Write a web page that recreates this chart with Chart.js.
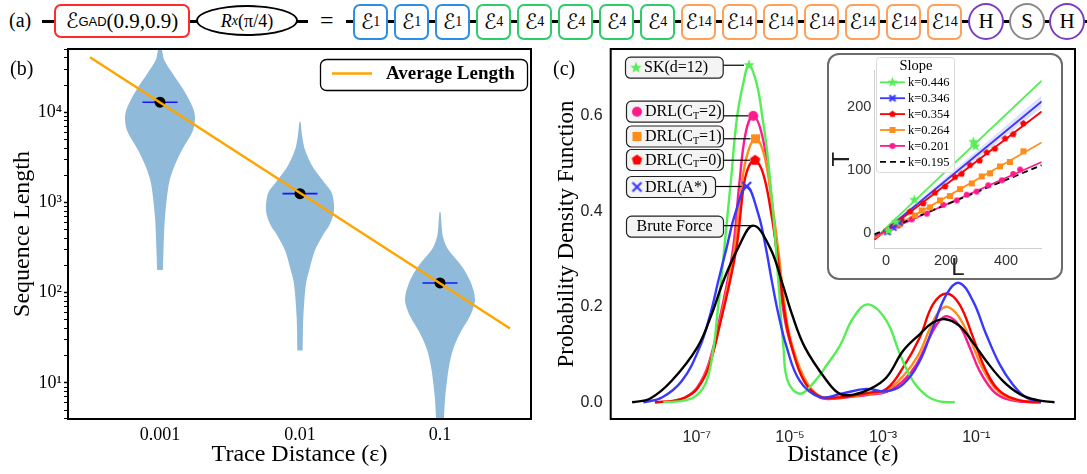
<!DOCTYPE html>
<html>
<head>
<meta charset="utf-8">
<title>Sequence length and distance distributions</title>
<script src="https://cdn.jsdelivr.net/npm/chart.js@4.4.1/dist/chart.umd.min.js"></script>
<style>
  body { margin: 0; background: #fff; }
  #page { position: relative; width: 1087px; height: 474px; overflow: hidden; background: #fff;
          font-family: "Liberation Serif", "Times New Roman", serif; color: #000; }
  .tag { position: absolute; font-size: 20px; line-height: 1; }
  .wire { position: absolute; top: 20px; height: 3px; background: #000; }
  .gate { position: absolute; top: 4px; width: 35px; height: 36px; box-sizing: border-box;
          border: 2.5px solid #000; border-radius: 7px; background: #fff;
          display: flex; align-items: center; justify-content: center; font-size: 21px; line-height: 1; }
  .gate sub { font-size: 14px; vertical-align: -6px; font-family: "Liberation Serif", serif; }
  .scr { font-family: "DejaVu Sans", sans-serif; font-size: 21px; }
  .round { border-radius: 50%; top: 3px; width: 36px; height: 37px; font-size: 21px; }
  canvas { position: absolute; }
  #insetFrame { position: absolute; left: 827px; top: 53px; width: 236px; height: 227px; box-sizing: border-box;
                border: 2px solid #6b6b6b; border-radius: 12px; background: #fff; }
</style>
</head>
<body>
<div id="page">
  <canvas id="chartB" width="545" height="434" style="left:0;top:40px;"></canvas>
  <canvas id="chartC" width="542" height="434" style="left:545px;top:40px;"></canvas>
  <div id="insetFrame"></div>
  <canvas id="chartIn" width="236" height="227" style="left:827px;top:53px;"></canvas>

  <!-- (a) circuit row -->
  <div class="tag" style="left:9px;top:10px;">(a)</div>
  <div class="wire" style="left:42px;width:266px;"></div>
  <div class="wire" style="left:346px;width:741px;"></div>
  <div class="gate" style="left:54px;width:136px;height:34px;border-color:#ff2a2a;">
    <span class="scr">ℰ</span><sub style="font-family:'Liberation Sans',sans-serif;font-size:13px;vertical-align:-5px;">GAD</sub>(0.9,0.9)
  </div>
  <div class="gate" style="left:196px;top:5px;width:102px;height:31px;border:2px solid #000;border-radius:50%;font-size:18px;">
    <i>R</i><sub><i>x</i></sub>(π/4)
  </div>
  <div class="tag" style="left:320px;top:8px;font-size:24px;">=</div>
  <div id="gates"></div>

  <div class="tag" style="left:10px;top:58px;">(b)</div>
  <div class="tag" style="left:553px;top:58px;">(c)</div>
</div>

<script>
// ================= data (b): sequence length vs trace distance =================
var traceLabels = ['0.001', '0.01', '0.1'];
// violin outlines: log10(length) levels and half widths (in category units)
var violin1Lvl  = [2.25, 2.47, 2.84, 3.21, 3.39, 3.58, 3.80, 3.95, 4.06, 4.24, 4.43, 4.58, 4.70];
var violin1Half = [0.021, 0.025, 0.036, 0.064, 0.100, 0.157, 0.236, 0.250, 0.232, 0.171, 0.089, 0.029, 0.011];
var violin2Lvl  = [1.36, 1.73, 2.10, 2.28, 2.47, 2.62, 2.76, 2.91, 3.10, 3.21, 3.39, 3.58, 3.75, 3.89];
var violin2Half = [0.019, 0.024, 0.043, 0.071, 0.107, 0.157, 0.214, 0.243, 0.229, 0.179, 0.093, 0.036, 0.014, 0.004];
var violin3Lvl  = [0.50, 0.63, 0.82, 1.00, 1.18, 1.37, 1.55, 1.74, 1.92, 2.11, 2.29, 2.48, 2.62, 2.75, 2.89];
var violin3Half = [0.025, 0.029, 0.036, 0.048, 0.064, 0.093, 0.143, 0.214, 0.250, 0.221, 0.157, 0.057, 0.021, 0.011, 0.004];
var medianLen = [12900, 1250, 128];
var avgLineX = [-0.5, 2.5];
var avgLineY = [40600, 40];

// ================= data (c): PDF of distance (x = log10 distance) =================
var skExp  = [-7.72, -7.25, -7.0, -6.79, -6.64, -6.56, -6.48, -6.34, -6.27, -6.14, -6.01, -5.88, -5.71, -5.59, -5.49, -5.36, -5.25, -5.14, -5.05, -4.79, -4.5, -4.21, -3.93, -3.64, -3.32, -2.93, -2.64, -2.36, -2.07, -1.79, -1.46];
var skPdf  = [0.0, 0.004, 0.015, 0.045, 0.115, 0.185, 0.254, 0.394, 0.463, 0.595, 0.665, 0.706, 0.665, 0.595, 0.525, 0.394, 0.254, 0.115, 0.045, 0.018, 0.04, 0.078, 0.118, 0.177, 0.205, 0.171, 0.101, 0.045, 0.014, 0.002, 0.0];
var ct2Exp = [-7.9, -7.5, -7.25, -7.0, -6.75, -6.5, -6.23, -6.09, -5.95, -5.79, -5.6, -5.43, -5.29, -5.12, -4.96, -4.68, -4.36, -4.0, -3.64, -3.29, -2.93, -2.57, -2.28, -2.0, -1.79, -1.61, -1.36, -1.14, -0.93, -0.64, -0.36, 0.0, 0.36];
var ct2Pdf = [0.0, 0.003, 0.01, 0.03, 0.08, 0.18, 0.317, 0.456, 0.565, 0.600, 0.56, 0.456, 0.317, 0.178, 0.115, 0.045, 0.010, 0.008, 0.012, 0.016, 0.022, 0.045, 0.08, 0.136, 0.171, 0.180, 0.160, 0.115, 0.066, 0.024, 0.007, 0.001, 0.0];
var ct1Exp = [-7.9, -7.5, -7.25, -7.0, -6.75, -6.5, -6.2, -6.04, -5.9, -5.74, -5.56, -5.39, -5.25, -5.08, -4.94, -4.66, -4.36, -4.0, -3.64, -3.29, -2.93, -2.57, -2.25, -1.98, -1.8, -1.62, -1.38, -1.12, -0.9, -0.6, -0.3, 0.05, 0.39];
var ct1Pdf = [0.0, 0.003, 0.01, 0.028, 0.075, 0.17, 0.317, 0.456, 0.525, 0.552, 0.52, 0.42, 0.317, 0.178, 0.115, 0.045, 0.013, 0.009, 0.013, 0.018, 0.025, 0.055, 0.098, 0.158, 0.19, 0.200, 0.18, 0.13, 0.078, 0.03, 0.009, 0.002, 0.0];
var ct0Exp = [-7.9, -7.5, -7.25, -7.0, -6.75, -6.5, -6.16, -5.99, -5.88, -5.75, -5.58, -5.41, -5.26, -5.1, -4.96, -4.7, -4.36, -4.0, -3.64, -3.29, -2.93, -2.57, -2.21, -1.93, -1.64, -1.36, -1.07, -0.79, -0.5, -0.07, 0.39];
var ct0Pdf = [0.0, 0.003, 0.01, 0.028, 0.072, 0.165, 0.317, 0.456, 0.495, 0.507, 0.48, 0.40, 0.30, 0.178, 0.115, 0.045, 0.012, 0.01, 0.014, 0.02, 0.028, 0.073, 0.136, 0.205, 0.228, 0.205, 0.136, 0.066, 0.024, 0.004, 0.0];
var aExp   = [-8.15, -7.75, -7.32, -6.94, -6.71, -6.54, -6.36, -6.18, -5.93, -5.68, -5.52, -5.39, -5.25, -5.07, -4.79, -4.36, -3.9, -3.36, -2.93, -2.57, -2.21, -1.93, -1.64, -1.37, -1.07, -0.79, -0.5, -0.22, 0.07, 0.39];
var aPdf   = [0.0, 0.01, 0.045, 0.115, 0.185, 0.254, 0.324, 0.394, 0.452, 0.394, 0.324, 0.254, 0.185, 0.115, 0.045, 0.011, 0.018, 0.028, 0.023, 0.038, 0.087, 0.157, 0.226, 0.250, 0.212, 0.143, 0.080, 0.038, 0.010, 0.001];
var bfExp  = [-8.39, -8.0, -7.54, -6.99, -6.68, -6.43, -6.11, -5.79, -5.43, -5.18, -4.96, -4.68, -4.21, -3.93, -3.64, -3.3, -2.93, -2.57, -2.21, -1.93, -1.66, -1.36, -1.07, -0.79, -0.43, -0.07, 0.29, 0.68];
var bfPdf  = [0.0, 0.008, 0.045, 0.115, 0.185, 0.254, 0.324, 0.370, 0.324, 0.254, 0.185, 0.115, 0.045, 0.0175, 0.016, 0.027, 0.052, 0.108, 0.143, 0.167, 0.174, 0.160, 0.125, 0.087, 0.045, 0.0175, 0.005, 0.0];
// peaks: SK, CT=2, CT=1, CT=0, A*, brute force
var peakExp = [-5.88, -5.79, -5.74, -5.75, -5.93, -5.79];
var peakPdf = [0.706, 0.600, 0.552, 0.507, 0.452, 0.370];
var pdfTicks = [0, 0.2, 0.4, 0.6];
var distTickExp = [-7, -5, -3, -1];

// ================= data inset: T vs L =================
var fitL      = [-39, 519];
var fitSK     = [-9, 242];
var fitAStar  = [-10, 209];
var fitCT0    = [-10, 193];
var fitCT1    = [-8, 144];
var fitCT2    = [-5, 113];
var fitBrute  = [-2, 108];
var bandLow   = [-12, 199];
var bandHigh  = [-8, 219];
var skPtL  = [8, 33, 94, 291, 298];
var skPtT  = [4, 18, 53, 145, 138];
var aPtL   = [5, 25, 45];
var aPtT   = [2, 9, 17];
var ct0PtL = [20, 52, 80, 124, 163, 197, 230, 252, 280, 312, 336, 363, 397, 424, 458];
var ct0PtT = [9, 21, 34, 47, 64, 74, 89, 94, 108, 115, 128, 134, 150, 157, 174];
var ct1PtL = [8, 47, 97, 119, 147, 180, 213, 247, 286, 319, 347, 380, 413, 458];
var ct1PtT = [4, 15, 28, 36, 41, 52, 59, 70, 79, 90, 95, 106, 113, 130];
var ct2PtL = [2, 41, 86, 136, 191, 236, 269, 302, 341, 386, 424, 447];
var ct2PtT = [3, 12, 22, 31, 45, 52, 61, 66, 76, 84, 94, 101];
var slopeLabels = ['k=0.446', 'k=0.346', 'k=0.354', 'k=0.264', 'k=0.201', 'k=0.195'];
var insetXTicks = [0, 200, 400];
var insetYTicks = [0, 100, 200];

// colours
var cGreen = '#55ee55', cPink = '#ff1a8c', cOrange = '#ff8c1a', cRed = '#ff0000', cBlue = '#3838ff', cBlack = '#000000';
var violinColor = '#8fbada', avgColor = '#ffa500';
var serif = '"Liberation Serif", "Times New Roman", serif';
var sans = '"Liberation Sans", Arial, sans-serif';

// ---- circuit gates of row (a)
var gateX = [353, 394, 435, 476, 517, 558, 599, 640, 681, 722, 763, 804, 845, 886, 927];
var gateSub = ['1', '1', '1', '4', '4', '4', '4', '4', '14', '14', '14', '14', '14', '14', '14'];
var gateColor = { '1': '#2d8fe3', '4': '#2fcc6a', '14': '#ffa05a' };
var singleGates = [{ x: 968, t: 'H', c: '#7d3cc0' }, { x: 1009, t: 'S', c: '#8a8a8a' }, { x: 1049, t: 'H', c: '#7d3cc0' }];
var gatesHtml = '';
gateX.forEach(function (x, i) {
    gatesHtml += '<div class="gate" style="left:' + x + 'px;border-color:' + gateColor[gateSub[i]] + ';">' +
        '<span class="scr">ℰ</span><sub>' + gateSub[i] + '</sub></div>';
});
singleGates.forEach(function (g) {
    gatesHtml += '<div class="gate round" style="left:' + g.x + 'px;border-color:' + g.c + ';">' + g.t + '</div>';
});
document.getElementById('gates').innerHTML = gatesHtml;

// ---- helpers
function sup(n) {
    var map = { '-': '⁻', '0': '⁰', '1': '¹', '2': '²', '3': '³', '4': '⁴', '5': '⁵', '6': '⁶', '7': '⁷', '8': '⁸', '9': '⁹' };
    return String(n).split('').map(function (c) { return map[c]; }).join('');
}
function expPoints(exps, vals) {
    return exps.map(function (e, i) { return { x: Math.pow(10, e), y: vals[i] }; });
}
function pairPoints(xs, ys) {
    return xs.map(function (x, i) { return { x: x, y: ys[i] }; });
}
function violinPoints(pos, lvl, half) {
    var pts = [];
    for (var i = 0; i < lvl.length; i++) pts.push({ x: pos - half[i], y: Math.pow(10, lvl[i]) });
    for (var j = lvl.length - 1; j >= 0; j--) pts.push({ x: pos + half[j], y: Math.pow(10, lvl[j]) });
    return pts;
}
function rrect(ctx, x, y, w, h, r) {
    ctx.beginPath();
    ctx.moveTo(x + r, y);
    ctx.arcTo(x + w, y, x + w, y + h, r);
    ctx.arcTo(x + w, y + h, x, y + h, r);
    ctx.arcTo(x, y + h, x, y, r);
    ctx.arcTo(x, y, x + w, y, r);
    ctx.closePath();
}
// marker images (matplotlib style shapes)
function makeMarker(shape, color, size) {
    var s = Math.ceil(size * 2 + 4);
    var c = document.createElement('canvas');
    c.width = s; c.height = s;
    var g = c.getContext('2d');
    var cx = s / 2, cy = s / 2, i, a;
    g.fillStyle = color; g.strokeStyle = color;
    g.beginPath();
    if (shape === 'circle') {
        g.arc(cx, cy, size, 0, Math.PI * 2);
    } else if (shape === 'square') {
        g.rect(cx - size, cy - size, size * 2, size * 2);
    } else if (shape === 'pentagon') {
        for (i = 0; i < 5; i++) {
            a = -Math.PI / 2 + i * 2 * Math.PI / 5;
            g.lineTo(cx + size * Math.cos(a), cy + size * Math.sin(a));
        }
    } else if (shape === 'star') {
        for (i = 0; i < 10; i++) {
            a = -Math.PI / 2 + i * Math.PI / 5;
            var r = i % 2 === 0 ? size : size * 0.42;
            g.lineTo(cx + r * Math.cos(a), cy + r * Math.sin(a));
        }
    } else if (shape === 'x') {
        g.lineWidth = 2.2;
        g.moveTo(cx - size, cy - size); g.lineTo(cx + size, cy + size);
        g.moveTo(cx + size, cy - size); g.lineTo(cx - size, cy + size);
        g.stroke();
        return c;
    }
    g.closePath();
    g.fill();
    return c;
}

var mStar = makeMarker('star', cGreen, 6), mCircle = makeMarker('circle', cPink, 5),
    mSquare = makeMarker('square', cOrange, 4.5), mPent = makeMarker('pentagon', cRed, 5.5),
    mX = makeMarker('x', cBlue, 4.5);
var sStar = makeMarker('star', cGreen, 5.5), sCircle = makeMarker('circle', cPink, 3),
    sSquare = makeMarker('square', cOrange, 3), sPent = makeMarker('pentagon', cRed, 3.5),
    sX = makeMarker('x', cBlue, 3);

// frame round the plot area
var framePlugin = {
    id: 'frame',
    afterDraw: function (chart) {
        var a = chart.chartArea, ctx = chart.ctx;
        ctx.save();
        ctx.lineWidth = 2;
        ctx.strokeStyle = '#000';
        ctx.strokeRect(a.left, a.top, a.right - a.left, a.bottom - a.top);
        ctx.restore();
    }
};

// legend of (b)
var avgLegend = {
    id: 'avgLegend',
    afterDraw: function (chart) {
        var ctx = chart.ctx;
        ctx.save();
        rrect(ctx, 320.5, 19.5, 207, 31, 6);
        ctx.fillStyle = '#fff'; ctx.fill();
        ctx.lineWidth = 1.3; ctx.strokeStyle = '#000'; ctx.stroke();
        ctx.beginPath(); ctx.moveTo(332, 33.5); ctx.lineTo(372, 33.5);
        ctx.strokeStyle = avgColor; ctx.lineWidth = 2.5; ctx.stroke();
        ctx.fillStyle = '#000'; ctx.font = 'bold 19px ' + serif; ctx.textBaseline = 'middle';
        ctx.fillText('Average Length', 386, 34);
        ctx.restore();
    }
};

// ================= chart (b) =================
var bSets = [];
bSets.push({ data: pairPoints(avgLineX, avgLineY), showLine: true, borderColor: avgColor, borderWidth: 2.5, pointRadius: 0 });
bSets.push({ data: medianLen.map(function (v, i) { return { x: i, y: v }; }), pointRadius: 5.5, backgroundColor: '#000', borderWidth: 0 });
medianLen.forEach(function (v, i) {
    bSets.push({ data: [{ x: i - 0.125, y: v }, { x: i + 0.125, y: v }], showLine: true, borderColor: '#1414ff', borderWidth: 1.6, pointRadius: 0 });
});
[[violin1Lvl, violin1Half], [violin2Lvl, violin2Half], [violin3Lvl, violin3Half]].forEach(function (v, i) {
    bSets.push({ data: violinPoints(i, v[0], v[1]), showLine: true, fill: 'shape', backgroundColor: violinColor,
                 borderColor: 'rgba(0,0,0,0)', borderWidth: 0, pointRadius: 0, tension: 0.3 });
});

new Chart(document.getElementById('chartB'), {
    type: 'scatter',
    data: { datasets: bSets },
    options: {
        responsive: false, animation: false, devicePixelRatio: 1, events: [],
        layout: { padding: { top: 9, right: 14, left: 0, bottom: 0 } },
        plugins: { legend: { display: false }, tooltip: { enabled: false } },
        scales: {
            x: {
                type: 'linear', min: -0.657, max: 2.65,
                afterBuildTicks: function (axis) { axis.ticks = [0, 1, 2].map(function (v) { return { value: v }; }); },
                afterFit: function (axis) { axis.height = 55; axis.paddingLeft = 0; axis.paddingRight = 0; },
                ticks: { autoSkip: false, maxRotation: 0, padding: 5, color: '#000', font: { family: serif, size: 18 },
                         callback: function (v) { return traceLabels[v]; } },
                grid: { display: false, drawTicks: false },
                border: { display: false },
                title: { display: true, text: 'Trace Distance (ε)', color: '#000', font: { family: serif, size: 24 }, padding: { top: 0, bottom: 5 } }
            },
            y: {
                type: 'logarithmic', min: Math.pow(10, 0.6), max: Math.pow(10, 4.7),
                afterBuildTicks: function (axis) {
                    var t = [];
                    for (var e = 0; e <= 4; e++) {
                        for (var m = 1; m <= 9; m++) {
                            var v = m * Math.pow(10, e);
                            if (v >= axis.min && v <= axis.max) t.push({ value: v, major: m === 1 });
                        }
                    }
                    axis.ticks = t;
                },
                afterFit: function (axis) { axis.width = 68; axis.paddingTop = 0; axis.paddingBottom = 0; },
                ticks: { autoSkip: false, padding: 2, color: '#000', font: { family: serif, size: 18 },
                         callback: function (v) {
                             var l = Math.log10(v);
                             return Math.abs(l - Math.round(l)) < 1e-6 ? '10' + sup(Math.round(l)) : '';
                         } },
                grid: { drawOnChartArea: false, drawTicks: true, tickLength: 4, tickColor: '#000',
                        tickWidth: function (c) { return c.tick && c.tick.major ? 1.5 : 1; } },
                border: { display: false },
                title: { display: true, text: 'Sequence Length', color: '#000', font: { family: serif, size: 24 }, padding: { top: 8, bottom: 0 } }
            }
        }
    },
    plugins: [framePlugin, avgLegend]
});

// ================= chart (c) =================
// label boxes next to the first peak (canvas coordinates)
var peakNotes = [
    { parts: [['SK(d=12)', 16, 0]], mark: mStar, x: 80, y: 16.7, w: 97.7 },
    { parts: [['DRL(C', 16, 0], ['T', 10, 4], ['=2)', 16, 0]], mark: mCircle, x: 81, y: 60.7, w: 97 },
    { parts: [['DRL(C', 16, 0], ['T', 10, 4], ['=1)', 16, 0]], mark: mSquare, x: 81, y: 85.5, w: 97 },
    { parts: [['DRL(C', 16, 0], ['T', 10, 4], ['=0)', 16, 0]], mark: mPent, x: 81, y: 109, w: 97 },
    { parts: [['DRL(A*)', 16, 0]], mark: mX, x: 81, y: 136, w: 89 },
    { parts: [['Brute Force', 16, 0]], mark: null, x: 81, y: 175.7, w: 97 }
];
var notePlugin = {
    id: 'peakNotes',
    afterDatasetsDraw: function (chart) {
        var ctx = chart.ctx, sx = chart.scales.x, sy = chart.scales.y;
        ctx.save();
        peakNotes.forEach(function (n, i) {
            var px = sx.getPixelForValue(Math.pow(10, peakExp[i]));
            var py = sy.getPixelForValue(peakPdf[i]);
            var h = 21;
            ctx.beginPath();
            ctx.moveTo(n.x + n.w, py);
            ctx.lineTo(n.mark ? px - 5 : px, py);
            ctx.strokeStyle = '#000'; ctx.lineWidth = 1.2; ctx.stroke();
            rrect(ctx, n.x + 0.5, n.y + 0.5, n.w, h, 5);
            ctx.fillStyle = '#f4f4f4'; ctx.fill();
            ctx.strokeStyle = '#222'; ctx.lineWidth = 1.2; ctx.stroke();
            var tw = 0;
            n.parts.forEach(function (p) { ctx.font = p[1] + 'px ' + serif; tw += ctx.measureText(p[0]).width; });
            var tx;
            if (n.mark) {
                ctx.drawImage(n.mark, n.x + 11 - n.mark.width / 2, n.y + 11 - n.mark.height / 2);
                tx = n.x + 19;
            } else {
                tx = n.x + (n.w - tw) / 2;
            }
            ctx.fillStyle = '#000'; ctx.textBaseline = 'middle';
            n.parts.forEach(function (p) {
                ctx.font = p[1] + 'px ' + serif;
                ctx.fillText(p[0], tx, n.y + 11.5 + p[2]);
                tx += ctx.measureText(p[0]).width;
            });
        });
        ctx.restore();
    }
};

function curve(exps, vals, color) {
    return { data: expPoints(exps, vals), showLine: true, borderColor: color, borderWidth: 2.4,
             pointRadius: 0, tension: 0.4, fill: false };
}

new Chart(document.getElementById('chartC'), {
    type: 'scatter',
    data: {
        datasets: [
            { data: expPoints(peakExp.slice(0, 5), peakPdf.slice(0, 5)), pointStyle: [mStar, mCircle, mSquare, mPent, mX], pointRadius: 6 },
            curve(bfExp, bfPdf, cBlack),
            curve(aExp, aPdf, cBlue),
            curve(skExp, skPdf, cGreen),
            curve(ct0Exp, ct0Pdf, cRed),
            curve(ct1Exp, ct1Pdf, cOrange),
            curve(ct2Exp, ct2Pdf, cPink)
        ]
    },
    options: {
        responsive: false, animation: false, devicePixelRatio: 1, events: [],
        layout: { padding: { top: 9, right: 12, left: 0, bottom: 0 } },
        plugins: { legend: { display: false }, tooltip: { enabled: false } },
        scales: {
            x: {
                type: 'logarithmic', min: Math.pow(10, -8.85), max: Math.pow(10, 1.12),
                afterBuildTicks: function (axis) { axis.ticks = distTickExp.map(function (e) { return { value: Math.pow(10, e) }; }); },
                afterFit: function (axis) { axis.height = 55; axis.paddingLeft = 0; axis.paddingRight = 0; },
                ticks: { autoSkip: false, maxRotation: 0, padding: 9, color: '#222', font: { family: sans, size: 16 },
                         callback: function (v) { return '10' + sup(Math.round(Math.log10(v))); } },
                grid: { display: false, drawTicks: false },
                border: { display: false },
                title: { display: true, text: 'Distance (ε)', color: '#000', font: { family: serif, size: 23 }, padding: { top: 0, bottom: 5 } }
            },
            y: {
                type: 'linear', min: -0.035, max: 0.74,
                afterBuildTicks: function (axis) { axis.ticks = pdfTicks.map(function (v) { return { value: v }; }); },
                afterFit: function (axis) { axis.width = 65.7; axis.paddingTop = 0; axis.paddingBottom = 0; },
                ticks: { autoSkip: false, padding: 8, color: '#222', font: { family: sans, size: 16 },
                         callback: function (v) { return v.toFixed(1); } },
                grid: { display: false, drawTicks: false },
                border: { display: false },
                title: { display: true, text: 'Probability Density Function', color: '#000', font: { family: serif, size: 23 }, padding: { top: 8, bottom: 0 } }
            }
        }
    },
    plugins: [framePlugin, notePlugin]
});

// ================= inset: T vs L =================
var insetLegendRows = [
    { c: cGreen, m: sStar }, { c: cBlue, m: sX }, { c: cRed, m: sPent },
    { c: cOrange, m: sSquare }, { c: cPink, m: sCircle }, { c: cBlack, m: null, dash: true }
];
var insetLegend = {
    id: 'insetLegend',
    afterDraw: function (chart) {
        var ctx = chart.ctx;
        ctx.save();
        rrect(ctx, 49.5, 4.5, 78, 115, 3);
        ctx.fillStyle = 'rgba(255,255,255,0.85)'; ctx.fill();
        ctx.strokeStyle = '#d9d9d9'; ctx.lineWidth = 1; ctx.stroke();
        ctx.fillStyle = '#000'; ctx.textBaseline = 'middle'; ctx.textAlign = 'center';
        ctx.font = '14.5px ' + serif;
        ctx.fillText('Slope', 89, 13.5);
        ctx.textAlign = 'left';
        ctx.font = '12.5px ' + serif;
        insetLegendRows.forEach(function (r, i) {
            var y = 29.3 + i * 15.9;
            ctx.beginPath(); ctx.moveTo(53, y); ctx.lineTo(78, y);
            ctx.strokeStyle = r.c; ctx.lineWidth = 1.8;
            ctx.setLineDash(r.dash ? [6, 4] : []);
            ctx.stroke();
            ctx.setLineDash([]);
            if (r.m) ctx.drawImage(r.m, 65.5 - r.m.width / 2, y - r.m.height / 2);
            ctx.fillStyle = '#000';
            ctx.fillText(slopeLabels[i], 81, y + 0.5);
        });
        ctx.restore();
    }
};
function fitLine(ys, color, dash) {
    return { data: pairPoints(fitL, ys), showLine: true, borderColor: color, borderWidth: 1.8, borderDash: dash || [], pointRadius: 0 };
}
function marks(xs, ys, img) {
    return { data: pairPoints(xs, ys), pointStyle: img, pointRadius: 4 };
}

new Chart(document.getElementById('chartIn'), {
    type: 'scatter',
    data: {
        datasets: [
            marks(skPtL, skPtT, sStar),
            marks(aPtL, aPtT, sX),
            marks(ct0PtL, ct0PtT, sPent),
            marks(ct1PtL, ct1PtT, sSquare),
            marks(ct2PtL, ct2PtT, sCircle),
            fitLine(fitBrute, cBlack, [6, 4]),
            fitLine(fitCT2, cPink),
            fitLine(fitCT1, cOrange),
            fitLine(fitCT0, cRed),
            fitLine(fitAStar, cBlue),
            fitLine(fitSK, cGreen),
            { data: pairPoints(fitL, bandHigh), showLine: true, borderColor: 'rgba(0,0,0,0)', pointRadius: 0, fill: '+1', backgroundColor: 'rgba(90,90,255,0.18)' },
            { data: pairPoints(fitL, bandLow), showLine: true, borderColor: 'rgba(0,0,0,0)', pointRadius: 0 }
        ]
    },
    options: {
        responsive: false, animation: false, devicePixelRatio: 1, events: [],
        layout: { padding: { top: 17, right: 21.3, left: 0, bottom: 0 } },
        plugins: { legend: { display: false }, tooltip: { enabled: false } },
        scales: {
            x: {
                type: 'linear', min: -39, max: 519,
                afterBuildTicks: function (axis) { axis.ticks = insetXTicks.map(function (v) { return { value: v }; }); },
                afterFit: function (axis) { axis.height = 31.7; axis.paddingLeft = 0; axis.paddingRight = 0; },
                ticks: { autoSkip: false, maxRotation: 0, padding: 4, color: '#333', font: { family: sans, size: 14.5 } },
                grid: { display: false, drawTicks: false },
                border: { display: true, color: '#cfcfcf', width: 1 },
                title: { display: true, text: 'L', color: '#222', font: { family: sans, size: 24, lineHeight: 1 }, padding: { top: 0, bottom: 0 } }
            },
            y: {
                type: 'linear', min: -24, max: 259,
                afterBuildTicks: function (axis) { axis.ticks = insetYTicks.map(function (v) { return { value: v }; }); },
                afterFit: function (axis) { axis.width = 47.3; axis.paddingTop = 0; axis.paddingBottom = 0; },
                ticks: { autoSkip: false, padding: 3, color: '#333', font: { family: sans, size: 14.5 } },
                grid: { display: false, drawTicks: false },
                border: { display: true, color: '#cfcfcf', width: 1 },
                title: { display: true, text: 'T', color: '#222', font: { family: sans, size: 24, lineHeight: 1 }, padding: { top: 3, bottom: 0 } }
            }
        }
    },
    plugins: [insetLegend]
});
</script>
</body>
</html>
